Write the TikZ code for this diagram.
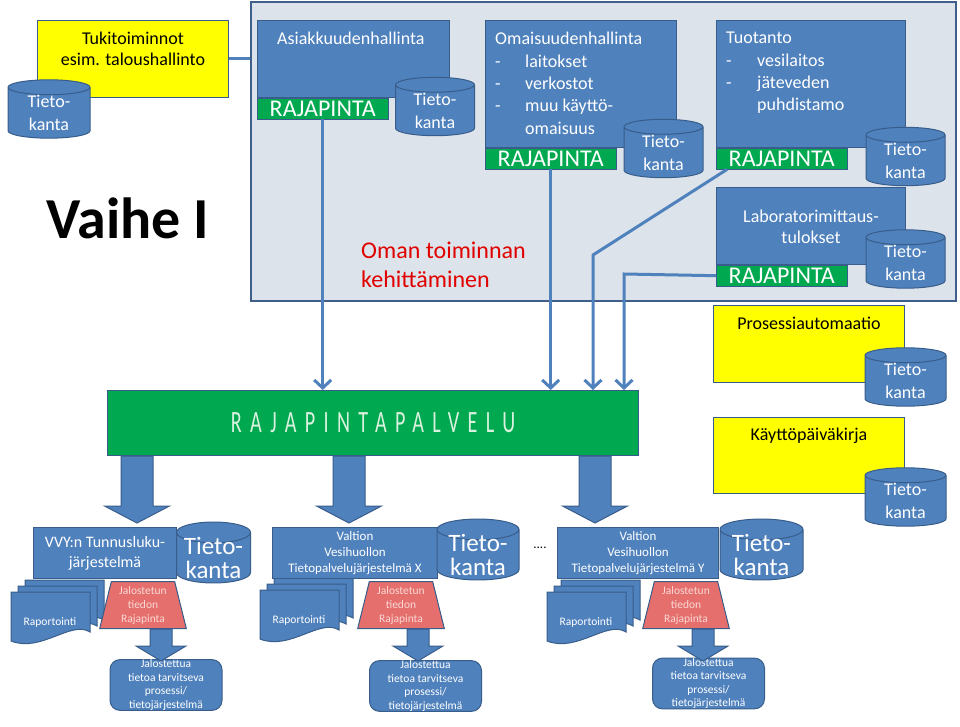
\documentclass[tikz,border=0pt]{standalone}
\usepackage{fontspec}
\setmainfont{Carlito}
\newfontfamily\spacedfont[LetterSpace=27,FakeStretch=0.65]{Carlito}
\usetikzlibrary{arrows.meta,positioning,shapes.geometric,calc}
\definecolor{fillblue}{HTML}{4F81BD}
\definecolor{edgeblue}{HTML}{385D8A}
\definecolor{framegrey}{HTML}{DCE3EA}
\definecolor{frameblue}{HTML}{3F5E8C}
\definecolor{apigreen}{HTML}{00A84F}
\definecolor{signyellow}{HTML}{FFFF00}
\definecolor{salmon}{HTML}{E46F6C}
\definecolor{pinktext}{HTML}{FAD9D6}
\definecolor{palvtext}{HTML}{D9F2DF}
\definecolor{devred}{HTML}{E10000}
\tikzset{bluebox/.style={draw=edgeblue,fill=fillblue,line width=1pt,anchor=north west,inner sep=0pt},
  yelbox/.style={draw=edgeblue,fill=signyellow,line width=1pt,anchor=north west,inner sep=0pt},
  apibar/.style={draw=edgeblue,fill=apigreen,text=white,anchor=north west,inner sep=0pt,minimum width=131,minimum height=21,font=\fontsize{24}{24}\selectfont},
  db/.style={cylinder,shape border rotate=90,aspect=0.35,anchor=shape center,draw=edgeblue,fill=fillblue,line width=1pt,text=white,align=center,inner sep=0pt,minimum width=79,minimum height=53,font=\fontsize{18}{23}\selectfont},
  bigdb/.style={db,inner ysep=-6pt,minimum width=82,minimum height=55,font=\fontsize{25}{24}\selectfont},
  title/.style={text=white,align=left,inner sep=0pt,font=\fontsize{18}{22.4}\selectfont},
  ytitle/.style={align=center,inner sep=0pt,font=\fontsize{18}{21}\selectfont},
  sysbox/.style={bluebox,text=white,align=center},
  trap/.style={trapezium,trapezium stretches=true,trapezium left angle=77,trapezium right angle=77,minimum width=87,minimum height=47,inner sep=0pt,draw=edgeblue,fill=salmon,line width=1pt,text=pinktext,align=center,font=\fontsize{11.5}{14}\selectfont},
  userbox/.style={draw=edgeblue,fill=fillblue,rounded corners=10pt,line width=1pt,minimum width=112,minimum height=50,inner sep=0pt,text=white,align=center,font=\fontsize{11.5}{13.6}\selectfont},
  link/.style={draw=fillblue,line width=3pt},
  linkarr/.style={link,-{Straight Barb[length=8pt,width=17pt]}},
  fatarrow/.style={draw=edgeblue,fill=fillblue,line width=1pt,line join=miter},
  docpage/.style={draw=edgeblue,fill=fillblue,line width=1pt},
  pics/reports/.style={code={
    \draw[docpage] (14,-12) -- ++(79,0) -- ++(0,40) .. controls ++(-19,-12) and ++(30,12) .. ++(-79,9) -- cycle;
    \draw[docpage] (7,-6) -- ++(79,0) -- ++(0,40) .. controls ++(-19,-12) and ++(30,12) .. ++(-79,9) -- cycle;
    \draw[docpage] (0,0) -- ++(79,0) -- ++(0,40) .. controls ++(-19,-12) and ++(30,12) .. ++(-79,9) -- cycle;
    \node[text=white,font=\fontsize{11.5}{14}\selectfont] (-txt) at (39,30) {Raportointi};}}}

\begin{document}
\begin{tikzpicture}[x=1pt,y=-1pt]
\useasboundingbox (0,0) rectangle (960,727);
% left side
\node[yelbox,minimum width=191,minimum height=77] (tuki) at (37,20) {};
\node[ytitle,below=12pt of tuki.north] (tukit) {Tukitoiminnot\\esim. taloushallinto};
\node[db,minimum width=82,minimum height=52] (db0) at (49,109) {Tieto-\\kanta};
\node[font=\bfseries\fontsize{58}{58}\selectfont] (vaihe) at (128,218) {Vaihe I};
% own operations
\node[draw=frameblue,fill=framegrey,line width=2pt,anchor=north west,minimum width=705,minimum height=299,inner sep=0pt] (panel) at (250,1) {};
\draw[link] (tuki.east) -- (tuki.east -| panel.west);
\node[bluebox,minimum width=192,minimum height=77] (asiak) at (257,20) {};
\node[title,below right=12pt and 20pt of asiak.north west] (asiakt) {Asiakkuudenhallinta};
\node[apibar] (api1) at (asiak.south west) {RAJAPINTA};
\node[db] (db1) at (435,106.5) {Tieto-\\kanta};
\node[bluebox,minimum width=191,minimum height=127] (omai) at (485,20) {};
\node[title,below right=12pt and 10pt of omai.north west] (omait) {Omaisuudenhallinta\\\makebox[30pt][l]{-}laitokset\\\makebox[30pt][l]{-}verkostot\\\makebox[30pt][l]{-}muu käyttö-\\\hspace*{30pt}omaisuus};
\node[apibar] (api2) at (omai.south west) {RAJAPINTA};
\node[db] (db2) at (663.5,148.5) {Tieto-\\kanta};
\node[bluebox,minimum width=189,minimum height=127] (tuot) at (716,20) {};
\node[title,below right=12pt and 10pt of tuot.north west] (tuott) {Tuotanto\\\makebox[31pt][l]{-}vesilaitos\\\makebox[31pt][l]{-}jäteveden\\\hspace*{31pt}puhdistamo};
\node[apibar] (api3) at (tuot.south west) {RAJAPINTA};
\node[db] (db3) at (905.5,156.5) {Tieto-\\kanta};
\node[bluebox,minimum width=189,minimum height=77] (lab) at (716,187) {};
\node[ytitle,text=white,below=23pt of lab.north] (labt) {Laboratorimittaus-\\tulokset};
\node[apibar] (api4) at (lab.south west) {RAJAPINTA};
\node[db,minimum height=51] (db4) at (905.5,259) {Tieto-\\kanta};
\node[text=devred,align=left,anchor=north west,inner sep=0pt,font=\fontsize{24}{29}\selectfont] (oman) at (361,242) {Oman toiminnan\\kehittäminen};
% interface service
\node[draw=edgeblue,fill=apigreen,line width=1pt,anchor=north west,minimum width=531,minimum height=65,inner sep=0pt,text=palvtext,font=\spacedfont\fontsize{31}{31}\selectfont] (palv) at (107,390) {RAJAPINTAPALVELU};
\draw[linkarr] (api1.south) -- (api1.south |- palv.north);
\draw[linkarr] (api2.south) -- (api2.south |- palv.north);
\coordinate (bend3) at (593,255);
\draw[linkarr] ($(api3.south west)+(11,0)$) -- (bend3) -- (bend3 |- palv.north);
\coordinate (drop4) at (624,274);
\draw[linkarr] (api4.west) -- (drop4) -- (drop4 |- palv.north);
\coordinate (d1) at ($(palv.south west)+(30,0)$);
\coordinate (d2) at ($(palv.south west)+(242,0)$);
\coordinate (d3) at ($(palv.south west)+(488,0)$);
\draw[fatarrow] (d1) ++(-16,0) -- ++(0,50) -- ++(-16.5,0) -- ++(32.5,17) -- ++(32.5,-17) -- ++(-16.5,0) -- ++(0,-50) -- cycle;
\draw[fatarrow] (d2) ++(-16,0) -- ++(0,50) -- ++(-16.5,0) -- ++(32.5,17) -- ++(32.5,-17) -- ++(-16.5,0) -- ++(0,-50) -- cycle;
\draw[fatarrow] (d3) ++(-16,0) -- ++(0,50) -- ++(-16.5,0) -- ++(32.5,17) -- ++(32.5,-17) -- ++(-16.5,0) -- ++(0,-50) -- cycle;
% systems
\pic (rep1) at (11,592) {reports};
\node[sysbox,minimum width=143,minimum height=51,font=\fontsize{16}{20}\selectfont] (vvy) at (33,527) {VVY:n Tunnusluku-\\järjestelmä};
\node[bigdb,minimum width=74] (db5) at (213.5,552.5) {Tieto-\\kanta};
\node[trap] (tr1) at (143,605) {Jalostetun\\tiedon\\Rajapinta};
\node[userbox] (use1) at (166,685) {Jalostettua\\tietoa tarvitseva\\prosessi/\\tietojärjestelmä};
\coordinate (s1) at ($(tr1.south)+(18,0)$);
\draw[fatarrow] (s1) ++(-11,0) -- ++(0,17) -- ++(-14,0) -- ++(25,15) -- ++(25,-15) -- ++(-14,0) -- ++(0,-17) -- cycle;
\pic (rep2) at (260,590) {reports};
\node[sysbox,minimum width=165,minimum height=51,font=\fontsize{13}{16}\selectfont] (valx) at (272,527) {Valtion\\Vesihuollon\\Tietopalvelujärjestelmä X};
\node[bigdb] (db6) at (478,549.5) {Tieto-\\kanta};
\node[font=\fontsize{13}{13}\selectfont] (dots) at (540,548) {....};
\node[trap] (tr2) at (401,605) {Jalostetun\\tiedon\\Rajapinta};
\node[userbox] (use2) at (425.5,686) {Jalostettua\\tietoa tarvitseva\\prosessi/\\tietojärjestelmä};
\coordinate (s2) at ($(tr2.south)+(17,0)$);
\draw[fatarrow] (s2) ++(-11,0) -- ++(0,17) -- ++(-14,0) -- ++(25,15) -- ++(25,-15) -- ++(-14,0) -- ++(0,-17) -- cycle;
\pic (rep3) at (547,592) {reports};
\node[sysbox,minimum width=161,minimum height=51,font=\fontsize{13}{16}\selectfont] (valy) at (557,527) {Valtion\\Vesihuollon\\Tietopalvelujärjestelmä Y};
\node[bigdb,minimum width=83] (db7) at (761.5,549.5) {Tieto-\\kanta};
\node[trap] (tr3) at (686,605) {Jalostetun\\tiedon\\Rajapinta};
\node[userbox] (use3) at (708.5,683.5) {Jalostettua\\tietoa tarvitseva\\prosessi/\\tietojärjestelmä};
\coordinate (s3) at ($(tr3.south)+(17,0)$);
\draw[fatarrow] (s3) ++(-11,0) -- ++(0,17) -- ++(-14,0) -- ++(25,15) -- ++(25,-15) -- ++(-14,0) -- ++(0,-17) -- cycle;
% right side
\node[yelbox,minimum width=191,minimum height=77] (proc) at (713,305) {};
\node[ytitle,below=12pt of proc.north] (proct) {Prosessiautomaatio};
\node[db,minimum width=81,minimum height=50] (db8) at (905.5,377) {Tieto-\\kanta};
\node[yelbox,minimum width=191,minimum height=76] (logb) at (713,417) {};
\node[ytitle,below=11pt of logb.north] (logt) {Käyttöpäiväkirja};
\node[db,minimum width=81,minimum height=50] (db9) at (905.5,497) {Tieto-\\kanta};
\end{tikzpicture}
\end{document}
